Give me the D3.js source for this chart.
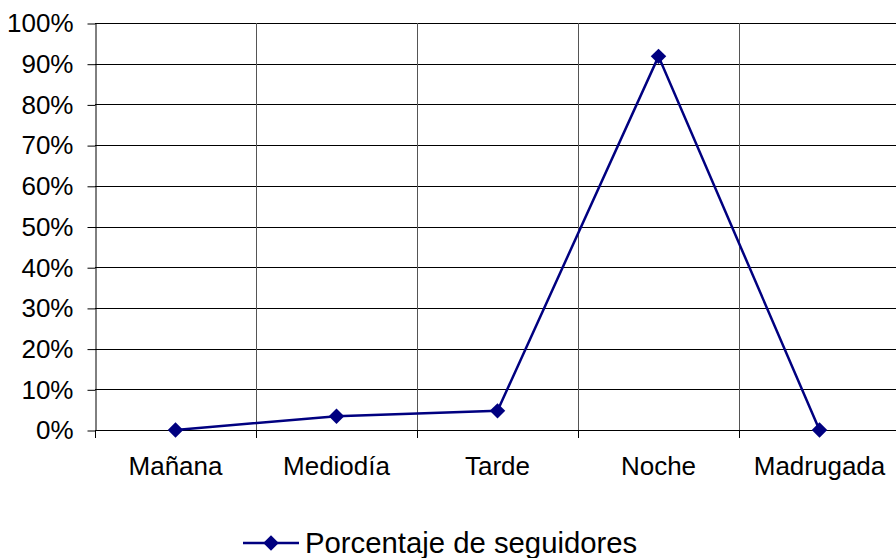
<!DOCTYPE html>
<html>
<head>
<meta charset="utf-8">
<script src="https://cdn.jsdelivr.net/npm/d3@7"></script>
<style>
  body { margin: 0; background: #fff; }
  svg { font-family: "Liberation Sans", Arial, sans-serif; }
</style>
</head>
<body>
<div id="chart"></div>
<script>
// Data
const categories = ['Mañana', 'Mediodía', 'Tarde', 'Noche', 'Madrugada'];
const seguidores = [0, 0.034, 0.047, 0.918, 0];
const yTicks = [0, 0.1, 0.2, 0.3, 0.4, 0.5, 0.6, 0.7, 0.8, 0.9, 1.0];
const seriesName = 'Porcentaje de seguidores';

const width = 896, height = 558;
const plotLeft = 95, plotRight = 900, plotTop = 23, plotBottom = 430;
const lineColor = '#000080';
const labelSize = 26;

const svg = d3.select('#chart').append('svg')
    .attr('width', width)
    .attr('height', height);

const x = d3.scaleBand().domain(categories).range([plotLeft, plotRight]).padding(0);
const y = d3.scaleLinear().domain([0, 1]).range([plotBottom, plotTop]);

// horizontal gridlines
svg.append('g')
    .selectAll('line')
    .data(yTicks)
    .enter().append('line')
    .attr('x1', plotLeft).attr('x2', plotRight)
    .attr('y1', d => Math.round(y(d)) + 0.5)
    .attr('y2', d => Math.round(y(d)) + 0.5)
    .attr('stroke', '#000')
    .attr('stroke-width', 1);

// vertical gridlines (category boundaries)
const bounds = categories.map(c => x(c)).concat([x.range()[1]]);
svg.append('g')
    .selectAll('line')
    .data(bounds.slice(1))
    .enter().append('line')
    .attr('x1', d => Math.round(d) + 0.5).attr('x2', d => Math.round(d) + 0.5)
    .attr('y1', plotTop).attr('y2', plotBottom)
    .attr('stroke', '#555')
    .attr('stroke-width', 1);

// y axis
const yAxis = d3.axisLeft(y)
    .tickValues(yTicks)
    .tickFormat(d3.format('.0%'))
    .tickSize(8)
    .tickSizeOuter(0)
    .tickPadding(14);
svg.append('g')
    .attr('transform', `translate(${plotLeft + 0.5},0.5)`)
    .attr('font-size', labelSize)
    .attr('font-family', '"Liberation Sans", Arial, sans-serif')
    .call(yAxis)
    .call(g => g.selectAll('path, line').attr('stroke', '#000'))
    .call(g => g.selectAll('text').style('font-size', labelSize + 'px').attr('fill', '#000'));

// x axis
svg.append('line')
    .attr('x1', plotLeft).attr('x2', plotRight)
    .attr('y1', plotBottom + 0.5).attr('y2', plotBottom + 0.5)
    .attr('stroke', '#000');
svg.append('g')
    .selectAll('line')
    .data(bounds)
    .enter().append('line')
    .attr('x1', d => Math.round(d) + 0.5).attr('x2', d => Math.round(d) + 0.5)
    .attr('y1', plotBottom).attr('y2', plotBottom + 8)
    .attr('stroke', '#000');
svg.append('g')
    .selectAll('text')
    .data(categories)
    .enter().append('text')
    .attr('x', d => x(d) + x.bandwidth() / 2)
    .attr('y', 475)
    .attr('text-anchor', 'middle')
    .style('font-size', labelSize + 'px')
    .attr('fill', '#000')
    .text(d => d);

// series line
const cx = (d, i) => x(categories[i]) + x.bandwidth() / 2;
const line = d3.line()
    .x((d, i) => cx(d, i))
    .y(d => y(d));
svg.append('path')
    .datum(seguidores)
    .attr('d', line)
    .attr('fill', 'none')
    .attr('stroke', lineColor)
    .attr('stroke-width', 2.5);

const diamond = d3.symbol().type(d3.symbolSquare).size(120);
svg.append('g')
    .selectAll('path')
    .data(seguidores)
    .enter().append('path')
    .attr('d', diamond)
    .attr('transform', (d, i) => `translate(${cx(d, i)},${y(d)}) rotate(45)`)
    .attr('fill', lineColor);

// legend
const lg = svg.append('g').attr('transform', 'translate(243,543)');
lg.append('line')
    .attr('x1', 0).attr('x2', 56)
    .attr('y1', 0).attr('y2', 0)
    .attr('stroke', lineColor)
    .attr('stroke-width', 2.5);
lg.append('path')
    .attr('d', diamond)
    .attr('transform', 'translate(28,0) rotate(45)')
    .attr('fill', lineColor);
lg.append('text')
    .attr('x', 62)
    .attr('y', 10)
    .style('font-size', '29.3px')
    .attr('fill', '#000')
    .text(seriesName);
</script>
</body>
</html>
